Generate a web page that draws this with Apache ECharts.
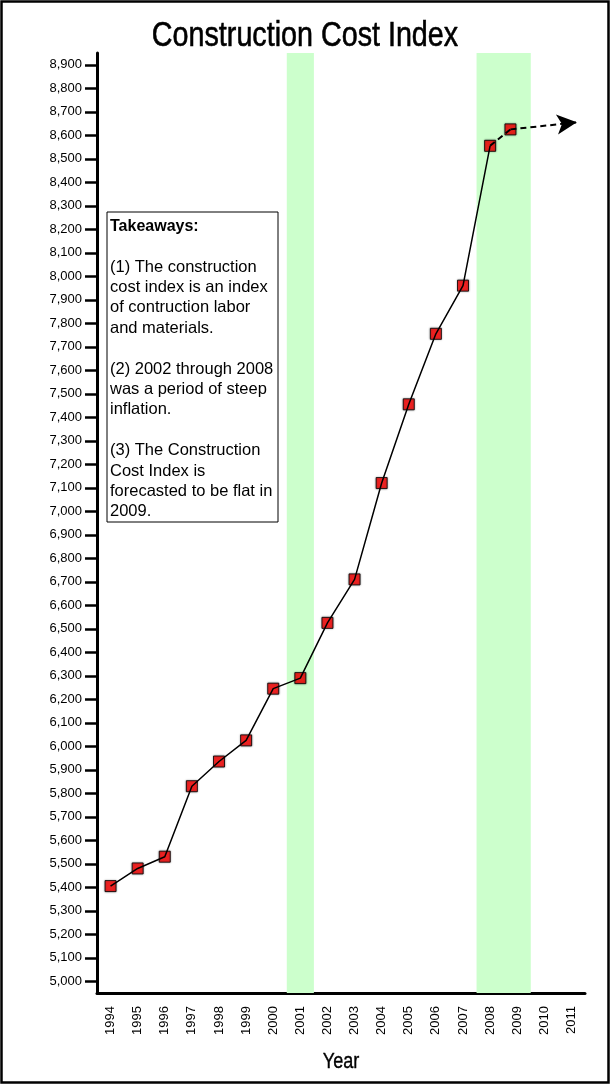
<!DOCTYPE html>
<html>
<head>
<meta charset="utf-8">
<script src="https://cdn.jsdelivr.net/npm/echarts@6/dist/echarts.min.js"></script>
<style>
  html, body { margin: 0; padding: 0; background: #fff; }
  #chart { width: 610px; height: 1084px; }
</style>
</head>
<body>
<div id="chart"></div>
<script>
// Construction Cost Index, annual figures
const years = [1994, 1995, 1996, 1997, 1998, 1999, 2000, 2001, 2002, 2003, 2004, 2005, 2006, 2007, 2008, 2009];
// x position of each figure; the 2009 forecast sits just ahead of its year
const yearPos = [1994, 1995, 1996, 1997, 1998, 1999, 2000, 2001, 2002, 2003, 2004, 2005, 2006, 2007, 2008, 2008.75];
const cci = [5405, 5480, 5530, 5830, 5935, 6025, 6245, 6290, 6525, 6710, 7120, 7455, 7755, 7960, 8555, 8625];

// Year labels along the bottom
const yearLabels = [1994, 1995, 1996, 1997, 1998, 1999, 2000, 2001, 2002, 2003, 2004, 2005, 2006, 2007, 2008, 2009, 2010, 2011];
// Index tick values on the left
const indexTicks = [5000, 5100, 5200, 5300, 5400, 5500, 5600, 5700, 5800, 5900,
                    6000, 6100, 6200, 6300, 6400, 6500, 6600, 6700, 6800, 6900,
                    7000, 7100, 7200, 7300, 7400, 7500, 7600, 7700, 7800, 7900,
                    8000, 8100, 8200, 8300, 8400, 8500, 8600, 8700, 8800, 8900];

// Shaded recession years
const bands = [[2001, 2001], [2008, 2009]];
// End of the flat-forecast arrow
const forecastEnd = [2011.2, 8655];

const TEXT_FONT = "'Liberation Sans', Arial, sans-serif";
// condensed headings: regular sans squeezed horizontally
const NARROW_SCALE = 0.82;

const points = yearPos.map((x, i) => [x, cci[i]]);
const actual = points.slice(0, 15);
const forecast = points.slice(14);

const fmt = v => String(v).replace(/\B(?=(\d{3})+(?!\d))/g, ',');

const chart = echarts.init(document.getElementById('chart'), null, { renderer: 'canvas', width: 610, height: 1084 });

chart.setOption({
  animation: false,
  backgroundColor: '#fff',
  grid: { left: 97, right: 25, top: 53, bottom: 91, containLabel: false },
  xAxis: {
    type: 'value',
    min: 1993.5,
    max: 2011.5,
    axisLine: { show: true, lineStyle: { color: '#000', width: 3 } },
    axisTick: { show: false },
    splitLine: { show: false },
    axisLabel: {
      customValues: yearLabels,
      rotate: 90,
      margin: 13,
      formatter: v => String(v),
      fontFamily: TEXT_FONT,
      fontSize: 13,
      color: '#000'
    }
  },
  yAxis: {
    type: 'value',
    min: 4950,
    max: 8950,
    axisLine: { show: true, lineStyle: { color: '#000', width: 3 } },
    axisTick: { show: true, customValues: indexTicks, length: 12, lineStyle: { color: '#000', width: 2.5 } },
    splitLine: { show: false },
    axisLabel: {
      customValues: indexTicks,
      margin: 15,
      formatter: v => fmt(v),
      fontFamily: TEXT_FONT,
      fontSize: 13,
      color: '#000'
    }
  },
  series: [
    {
      name: 'bands',
      type: 'line',
      data: [],
      z: 1,
      silent: true,
      markArea: {
        silent: true,
        itemStyle: { color: '#CCFFCC' },
        data: bands.map(b => [{ xAxis: b[0] - 0.5 }, { xAxis: b[1] + 0.5 }])
      }
    },
    {
      name: 'markers',
      type: 'scatter',
      data: points,
      z: 2,
      symbol: 'rect',
      symbolSize: 11,
      itemStyle: {
        color: '#FF0000',
        borderColor: '#000',
        borderWidth: 1,
        shadowBlur: 2,
        shadowColor: 'rgba(0,0,0,0.45)'
      },
      emphasis: { disabled: true }
    },
    {
      name: 'actual',
      type: 'line',
      data: actual,
      z: 3,
      showSymbol: false,
      lineStyle: { color: '#000', width: 1.5 },
      emphasis: { disabled: true }
    },
    {
      name: 'forecast',
      type: 'line',
      data: forecast,
      z: 3,
      showSymbol: false,
      lineStyle: { color: '#000', width: 2, type: [6, 4] },
      emphasis: { disabled: true },
      markLine: {
        silent: true,
        symbol: ['none', 'arrow'],
        symbolSize: [15, 20],
        label: { show: false },
        lineStyle: { color: '#000', width: 2, type: [6, 4], curveness: 0.12 },
        itemStyle: { color: '#000' },
        data: [[{ coord: forecast[1] }, { coord: forecastEnd }]]
      }
    }
  ],
  graphic: [
    {
      type: 'rect',
      shape: { x: 1.5, y: 1.5, width: 607, height: 1081 },
      style: { fill: 'none', stroke: '#000', lineWidth: 2.5 },
      silent: true,
      z: 0
    },
    {
      type: 'text',
      x: 305,
      y: 36,
      scaleX: NARROW_SCALE,
      style: {
        text: 'Construction Cost Index',
        font: "35px " + TEXT_FONT,
        textAlign: 'center',
        textVerticalAlign: 'middle',
        fill: '#000',
        stroke: '#000',
        lineWidth: 0.6
      },
      z: 10
    },
    {
      type: 'text',
      x: 341,
      y: 1062,
      scaleX: NARROW_SCALE,
      style: {
        text: 'Year',
        font: "22px " + TEXT_FONT,
        textAlign: 'center',
        textVerticalAlign: 'middle',
        fill: '#000',
        stroke: '#000',
        lineWidth: 0.4
      },
      z: 10
    },
    {
      type: 'group',
      x: 107,
      y: 212,
      z: 10,
      children: [
        {
          type: 'rect',
          shape: { x: 0, y: 0, width: 171, height: 310 },
          style: { fill: '#fff', stroke: '#000', lineWidth: 1 }
        },
        {
          type: 'text',
          x: 3,
          y: 4,
          style: {
            text: 'Takeaways:',
            font: "bold 16px " + TEXT_FONT,
            lineHeight: 20.4,
            fill: '#000'
          }
        },
        {
          type: 'text',
          x: 3,
          y: 44.8,
          style: {
            text: '(1) The construction\ncost index is an index\nof contruction labor\nand materials.\n\n(2) 2002 through 2008\nwas a period of steep\ninflation.\n\n(3) The Construction\nCost Index is\nforecasted to be flat in\n2009.',
            font: "16.5px " + TEXT_FONT,
            lineHeight: 20.4,
            fill: '#000'
          }
        }
      ]
    }
  ]
});
</script>
</body>
</html>
